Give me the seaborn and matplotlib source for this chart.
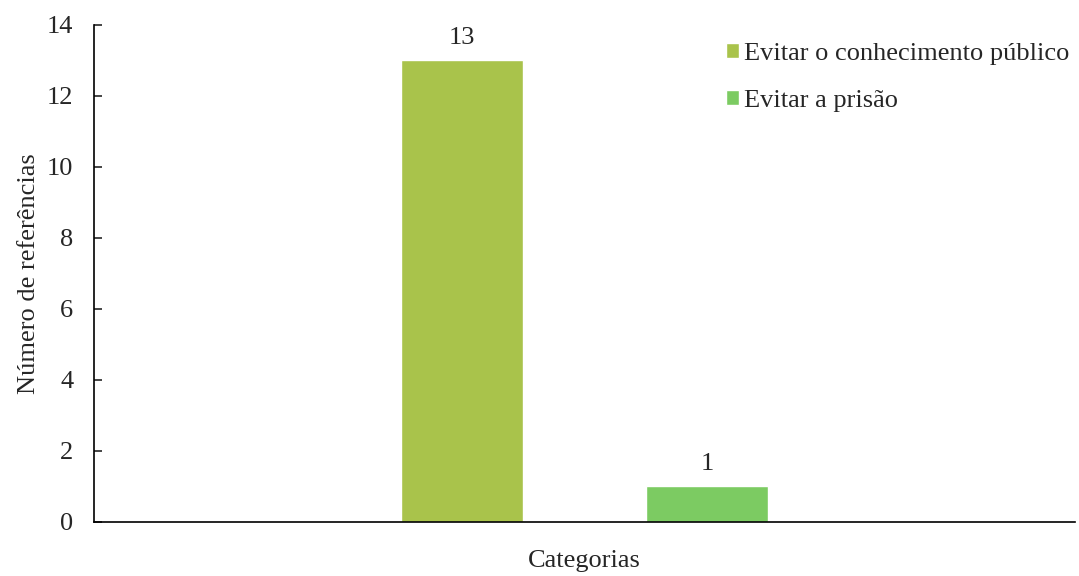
import matplotlib
matplotlib.use("Agg")
import matplotlib.pyplot as plt
import seaborn as sns
import pandas as pd

categories = ["Categorias", "Categorias"]
series = ["Evitar o conhecimento público", "Evitar a prisão"]
values = [13, 1]
colors = ["#A9C34B", "#7CCB62"]

sns.set_style("white")
plt.rcParams['font.family'] = ['Liberation Serif', 'DejaVu Serif']

df = pd.DataFrame({"cat": categories, "serie": series, "val": values})

fig = plt.figure(figsize=(10.79, 5.76), dpi=100)
ax = fig.add_axes([0.0871, 0.09375, 0.9092, 0.8629])

sns.barplot(data=df, x="cat", y="val", hue="serie", palette=colors,
            width=0.5, gap=0.5, ax=ax, saturation=1, legend=True)

for c in ax.containers:
    ax.bar_label(c, labels=[f"{int(v)}" for v in c.datavalues], padding=8, fontsize=19)

ax.set_xlim(-0.5, 0.5)
ax.set_ylim(0, 14)
ax.set_yticks(range(0, 15, 2))
ax.tick_params(axis='y', direction='in', length=6, width=1.2, labelsize=19, pad=15, left=True)
ax.set_xticks([])
ax.set_xlabel("Categorias", fontsize=19, labelpad=20)
ax.set_ylabel("Número de referências", fontsize=19, labelpad=5)

for s in ["top", "right"]:
    ax.spines[s].set_visible(False)
for s in ["left", "bottom"]:
    ax.spines[s].set_color("black")
    ax.spines[s].set_linewidth(1.2)

leg = ax.legend(loc="upper right", bbox_to_anchor=(1.0, 0.975), frameon=False, fontsize=19,
                handlelength=0.5, handleheight=0.5, handletextpad=0.2, labelspacing=0.95,
                borderaxespad=0.0, borderpad=0.2)

fig.savefig("out.png", dpi=100)
